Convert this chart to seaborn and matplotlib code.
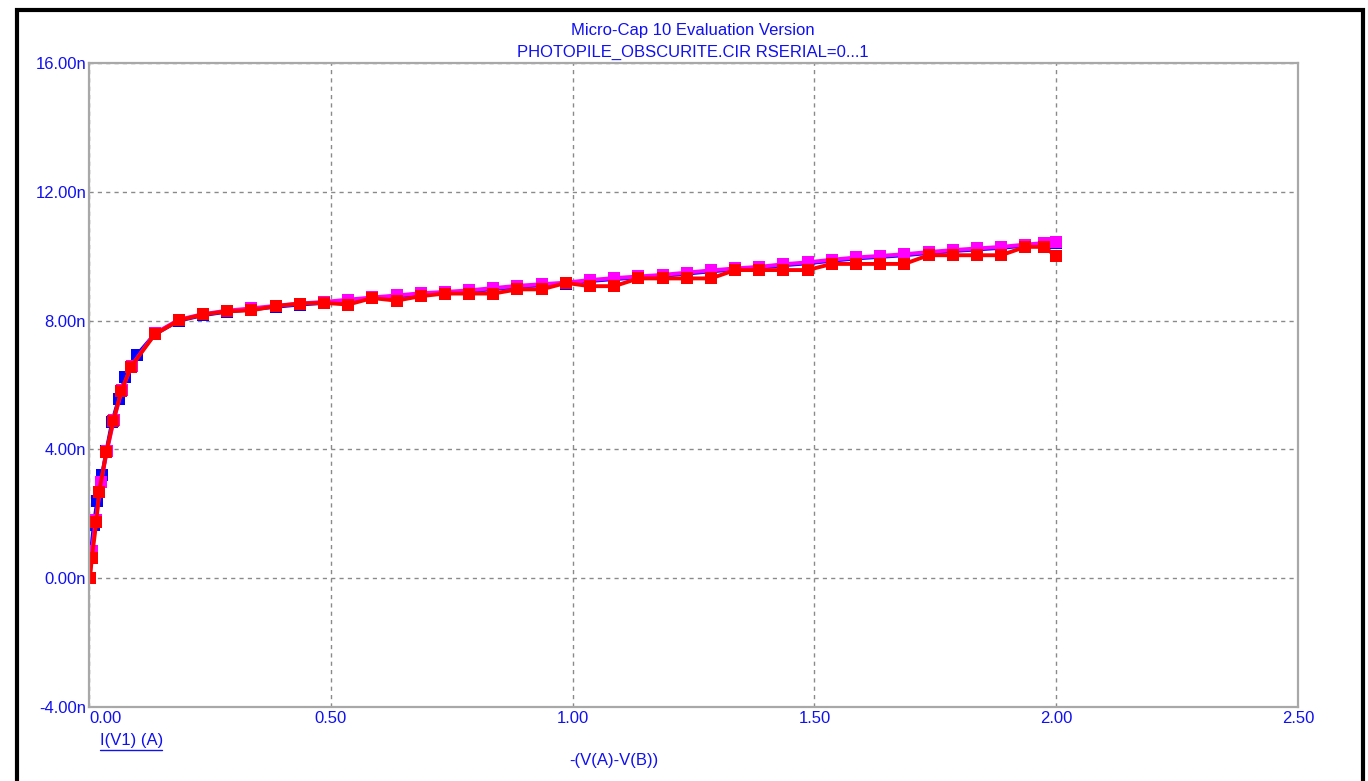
import matplotlib
matplotlib.use("Agg")
import matplotlib.pyplot as plt
import matplotlib.patches as mpatches
import matplotlib.lines as mlines
import seaborn as sns
import pandas as pd

# steep part near the origin, one list per RSERIAL step
v_steep_blue = [0.000, 0.004, 0.010, 0.017, 0.027, 0.036, 0.048, 0.062, 0.075, 0.099, 0.136]
i_steep_blue = [0.00, 0.80, 1.65, 2.40, 3.20, 3.95, 4.86, 5.58, 6.25, 6.93, 7.58]
v_steep_mag = [0.001, 0.006, 0.014, 0.025, 0.037, 0.051, 0.068, 0.088, 0.136]
i_steep_mag = [0.00, 0.85, 1.80, 3.00, 3.95, 4.90, 5.85, 6.60, 7.60]
v_steep_red = [0.002, 0.006, 0.015, 0.021, 0.036, 0.050, 0.067, 0.087, 0.136]
i_steep_red = [0.00, 0.64, 1.73, 2.68, 3.92, 4.88, 5.82, 6.57, 7.57]

# flat part, shared voltage points
v_flat = [0.186, 0.236, 0.286, 0.336, 0.386, 0.436, 0.486, 0.536, 0.586, 0.636,
          0.686, 0.736, 0.786, 0.836, 0.886, 0.936, 0.986, 1.036, 1.086, 1.136,
          1.186, 1.236, 1.286, 1.336, 1.386, 1.436, 1.486, 1.536, 1.586, 1.636,
          1.686, 1.736, 1.786, 1.836, 1.886, 1.936, 1.975, 2.000]
i_flat_blue = [8.00, 8.17, 8.28, 8.35, 8.43, 8.50, 8.55, 8.62, 8.69, 8.75,
               8.82, 8.86, 8.91, 8.98, 9.05, 9.10, 9.15, 9.23, 9.29, 9.34,
               9.39, 9.46, 9.53, 9.59, 9.64, 9.72, 9.78, 9.86, 9.93, 9.98,
               10.03, 10.10, 10.16, 10.21, 10.26, 10.33, 10.38, 10.40]
i_flat_mag = [8.03, 8.20, 8.31, 8.38, 8.46, 8.53, 8.58, 8.65, 8.72, 8.78,
              8.85, 8.89, 8.94, 9.01, 9.08, 9.13, 9.18, 9.26, 9.32, 9.37,
              9.42, 9.49, 9.56, 9.62, 9.67, 9.75, 9.81, 9.89, 9.96, 10.01,
              10.06, 10.13, 10.19, 10.24, 10.29, 10.36, 10.41, 10.43]
i_flat_red = [8.01, 8.19, 8.29, 8.32, 8.45, 8.53, 8.55, 8.50, 8.70, 8.62,
              8.76, 8.84, 8.84, 8.84, 8.97, 8.97, 9.17, 9.07, 9.07, 9.31,
              9.31, 9.31, 9.31, 9.57, 9.57, 9.57, 9.57, 9.76, 9.76, 9.76,
              9.76, 10.03, 10.03, 10.03, 10.03, 10.29, 10.29, 10.00]

steps = ["0", "0.5", "1"]
colors = ["#0000FF", "#FF00FF", "#FF0000"]
y_ticks = [-4, 0, 4, 8, 12, 16]
y_labels = ["-4.00n", "0.00n", "4.00n", "8.00n", "12.00n", "16.00n"]
x_ticks = [0.0, 0.5, 1.0, 1.5, 2.0, 2.5]
x_labels = ["0.00", "0.50", "1.00", "1.50", "2.00", "2.50"]

rows = []
for step, vs, cs in [("0", v_steep_blue + v_flat, i_steep_blue + i_flat_blue),
                     ("0.5", v_steep_mag + v_flat, i_steep_mag + i_flat_mag),
                     ("1", v_steep_red + v_flat, i_steep_red + i_flat_red)]:
    for k, (v, c) in enumerate(zip(vs, cs)):
        rows.append({"step": step, "order": k, "V": v, "I": c})
df = pd.DataFrame(rows)

sns.set_style("white")
plt.rcParams['font.family'] = ['Liberation Sans', 'DejaVu Sans']
blue_txt = "#1010F0"
narrow = ['Liberation Sans Narrow', 'Liberation Sans']

fig = plt.figure(figsize=(13.68, 7.81), dpi=100)
ax = fig.add_axes([89 / 1368, 1 - 707 / 781, (1298 - 89) / 1368, (707 - 63) / 781])

sns.lineplot(data=df, x="V", y="I", hue="step", hue_order=steps, palette=colors,
             units="step", estimator=None, sort=False, marker="s", markersize=8,
             markeredgewidth=0, linewidth=2.8, legend=False, ax=ax)

ax.set_xlim(0, 2.5)
ax.set_ylim(-4, 16)
ax.set_xticks(x_ticks)
ax.set_xticklabels(x_labels, family=narrow)
ax.set_yticks(y_ticks)
ax.set_yticklabels(y_labels)
ax.tick_params(axis="both", length=0, labelsize=12, labelcolor=blue_txt)
ax.tick_params(axis="x", pad=3)
ax.tick_params(axis="y", pad=2)
ax.get_xticklabels()[0].set_horizontalalignment("left")
ax.set_xlabel("")
ax.set_ylabel("")
ax.grid(True, color="#8a8a8a", linestyle=(0, (3, 3)), linewidth=1)
for s in ax.spines.values():
    s.set_color("#a8a8a8")
    s.set_linewidth(1.6)

fig.text(693 / 1368, 1 - 31 / 781, "Micro-Cap 10 Evaluation Version",
         ha="center", va="center", color=blue_txt, fontsize=12)
fig.text(693 / 1368, 1 - 52 / 781, "PHOTOPILE_OBSCURITE.CIR RSERIAL=0...1",
         ha="center", va="center", color=blue_txt, fontsize=12)
fig.text(100 / 1368, 1 - 741 / 781, "I(V1) (A)", ha="left", va="center",
         color=blue_txt, fontsize=12)
fig.add_artist(mlines.Line2D([100 / 1368, 162 / 1368], [1 - 750 / 781, 1 - 750 / 781],
                             color=blue_txt, linewidth=1))
fig.text(614 / 1368, 1 - 760 / 781, "-(V(A)-V(B))", ha="center", va="center",
         color=blue_txt, fontsize=12, family=narrow)

# outer window frame
fig.add_artist(mpatches.Rectangle((17 / 1368, -0.02), (1363 - 17) / 1368, 1.02 - 10 / 781,
                                  fill=False, edgecolor="black", linewidth=3,
                                  transform=fig.transFigure))

fig.savefig("out.png", dpi=100, facecolor="white")
